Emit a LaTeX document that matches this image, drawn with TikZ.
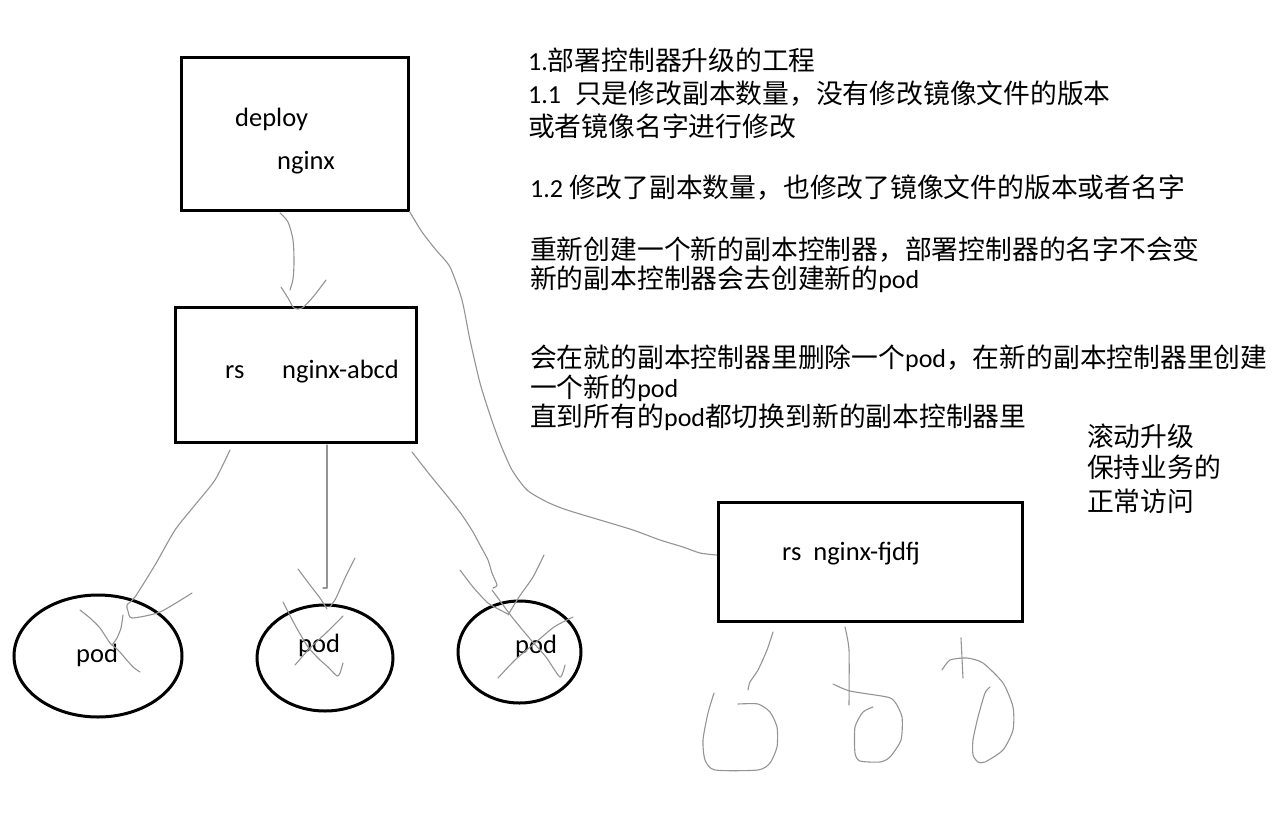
\documentclass[tikz,border=0pt]{standalone}
\usepackage{fontspec}
\setmainfont{Carlito}
\newfontfamily\cjk[Scale=1.03]{Noto Sans CJK SC}
\usetikzlibrary{shapes.geometric}
\begin{document}
\begin{tikzpicture}[x=1pt,y=-1pt,
  box/.style={draw=black,line width=3pt,inner sep=0pt},
  pod/.style={draw=black,ellipse,line width=3pt,inner sep=0pt},
  pen/.style={draw=black!42,line width=1.1pt,line cap=round,line join=round},
  txt/.style={anchor=base west,inner sep=0pt,font=\fontsize{26}{30}\selectfont},
  lbl/.style={anchor=base west,inner sep=0pt,font=\fontsize{26.5}{30}\selectfont}]
\useasboundingbox[fill=white] (0,0) rectangle (1280,830);

% boxes
\node[box,minimum width=227pt,minimum height=153pt] (b1) at (294.5,133.5) {};
\node[box,minimum width=241pt,minimum height=135pt] (b2) at (295.5,374.5) {};
\node[box,minimum width=304pt,minimum height=119pt] (b3) at (870,561.5) {};
\node[lbl] (l1) at (235,126) {deploy};
\node[lbl] (l2) at (277,169) {nginx};
\node[lbl] (l3) at (225,378) {rs};
\node[lbl] (l4) at (282,378) {nginx-abcd};
\node[lbl] (l5) at (782,560) {rs\hspace{12pt}nginx-fjdfj};

% pods
\node[pod,minimum width=168pt,minimum height=122pt] (p1) at (98,656) {};
\node[pod,minimum width=136pt,minimum height=106pt] (p2) at (325,658) {};
\node[pod,minimum width=123pt,minimum height=102pt] (p3) at (519.5,652) {};
\node[lbl] (q1) at (76,662) {pod};
\node[lbl] (q2) at (298,652) {pod};
\node[lbl] (q3) at (515,653) {pod};

% texts
\node[txt] (t1) at (528,70) {1.{\cjk 部署控制器升级的工程}};
\node[txt] (t2) at (528,103) {1.1\hspace{14pt}{\cjk 只是修改副本数量，没有修改镜像文件的版本}};
\node[txt] (t3) at (528,136) {{\cjk 或者镜像名字进行修改}};
\node[txt] (t4) at (530,197) {1.2 {\cjk 修改了副本数量，也修改了镜像文件的版本或者名字}};
\node[txt] (t5) at (530,259) {{\cjk 重新创建一个新的副本控制器，部署控制器的名字不会变}};
\node[txt] (t6) at (530,288) {{\cjk 新的副本控制器会去创建新的}pod};
\node[txt] (t7) at (530,367) {{\cjk 会在就的副本控制器里删除一个}pod{\cjk ，在新的副本控制器里创建}};
\node[txt] (t8) at (530,397) {{\cjk 一个新的}pod};
\node[txt] (t9) at (530,426) {{\cjk 直到所有的}pod{\cjk 都切换到新的副本控制器里}};
\node[txt] (t10) at (1087,446) {{\cjk 滚动升级}};
\node[txt] (t11) at (1087,477) {{\cjk 保持业务的}};
\node[txt] (t12) at (1087,511) {{\cjk 正常访问}};

% deploy -> rs
\draw[pen] plot[smooth,tension=0.5] coordinates {(280,213) (288,222) (293,240) (294,262) (293,279) (290,290)};
\draw[pen] plot[smooth,tension=0.5] coordinates {(281,287) (288,298) (294,308) (302,308) (313,297) (326,280)};

% deploy -> new rs
\draw[pen] plot[smooth,tension=0.4] coordinates {(b1.south east) (422,232) (436,250) (450,267) (462,300) (470,340) (480,383) (490,415) (500,443) (512,470) (527,490) (547,502) (567,510) (600,520) (633,530) (660,540) (683,547) (700,553) (b3.west |- 0,555)};

% rs -> pod1
\draw[pen] plot[smooth,tension=0.4] coordinates {(230,450) (215,480) (195,505) (175,530) (155,565) (135,597) (127,605) (128,611) (132,618) (160,612) (192,593)};
\draw[pen] plot[smooth,tension=0.4] coordinates {(80,610) (90,618) (100,628) (110,643) (118,650) (125,658) (133,667) (140,672)};
\draw[pen] plot[smooth,tension=0.4] coordinates {(123,615) (121,628) (117,638) (112,645)};

% rs -> pod2
\draw[pen] (327,445) -- (327,588) -- (323,588);
\draw[pen] plot[smooth,tension=0.4] coordinates {(298,569) (310,585) (320,598) (327,609)};
\draw[pen] plot[smooth,tension=0.4] coordinates {(355,558) (345,578) (336,598) (330,607)};
\draw[pen] plot[smooth,tension=0.4] coordinates {(283,602) (295,625) (308,647) (320,660) (328,667) (337,676) (340,673) (343,663)};
\draw[pen] plot[smooth,tension=0.4] coordinates {(343,616) (327,632) (310,648) (295,665)};

% rs -> pod3
\draw[pen] plot[smooth,tension=0.4] coordinates {(412,452) (430,475) (448,497) (462,515) (473,532) (480,545) (488,560) (492,573) (497,585) (493,588)};
\draw[pen] plot[smooth,tension=0.4] coordinates {(460,570) (473,587) (488,603) (504,612) (508,614)};
\draw[pen] plot[smooth,tension=0.4] coordinates {(544,555) (533,577) (519,597) (508,615)};
\draw[pen] plot[smooth,tension=0.4] coordinates {(492,590) (512,617) (531,640) (546,657) (560,677) (565,665)};
\draw[pen] plot[smooth,tension=0.4] coordinates {(573,617) (554,627) (535,643) (515,660) (498,678)};

% new rs -> new pods (half drawn)
\draw[pen] plot[smooth,tension=0.4] coordinates {(773,632) (767,650) (758,670) (750,682) (748,690)};
\draw[pen] plot[smooth,tension=0.4] coordinates {(714,693) (708,713) (703,740) (705,760) (715,770) (758,770) (770,763) (777,747) (777,727) (770,712) (758,704) (738,704)};
\draw[pen] plot[smooth,tension=0.4] coordinates {(845,627) (849,650) (849,705)};
\draw[pen] plot[smooth,tension=0.4] coordinates {(833,684) (850,691) (887,697) (895,702) (902,717) (901,740) (890,757) (880,762) (860,761) (855,753) (855,727) (863,712) (873,707)};
\draw[pen] (961,638) -- (963,678);
\draw[pen] plot[smooth,tension=0.4] coordinates {(942,670) (950,660) (967,658) (983,663) (1003,683) (1013,707) (1013,730) (1003,750) (985,762) (978,762) (973,755) (973,740) (978,717) (985,693) (990,687)};
\end{tikzpicture}
\end{document}
